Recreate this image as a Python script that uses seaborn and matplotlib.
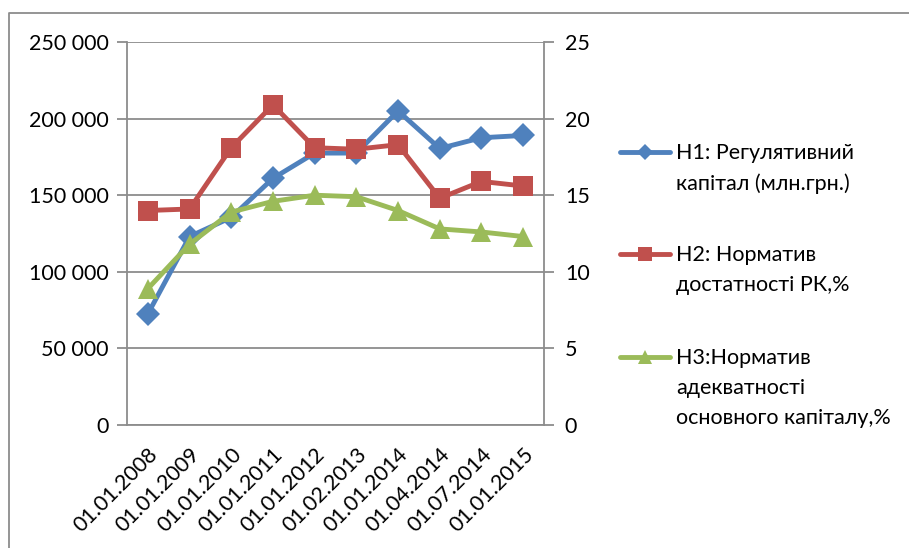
import matplotlib
matplotlib.use("Agg")
import matplotlib.pyplot as plt
from matplotlib.lines import Line2D
from matplotlib.ticker import FuncFormatter, FixedLocator
import seaborn as sns
import pandas as pd

dates = ["01.01.2008", "01.01.2009", "01.01.2010", "01.01.2011", "01.01.2012",
         "01.02.2013", "01.01.2014", "01.04.2014", "01.07.2014", "01.01.2015"]
h1_capital = [72500, 123000, 135500, 161000, 177500, 177500, 205000, 180500, 187500, 189000]
h2_ratio = [14.0, 14.1, 18.1, 20.9, 18.1, 18.0, 18.3, 14.8, 15.9, 15.6]
h3_ratio = [8.9, 11.8, 13.9, 14.6, 15.0, 14.9, 14.0, 12.8, 12.6, 12.3]
labels = ["H1: Регулятивний\nкапітал (млн.грн.)",
          "H2: Норматив\nдостатності РК,%",
          "H3:Норматив\nадекватності\nосновного капіталу,%"]

df = pd.DataFrame({"pos": range(len(dates)), "date": dates,
                   "h1": h1_capital, "h2": h2_ratio, "h3": h3_ratio})

sns.set_style("white")
plt.rcParams["font.family"] = ["Lato", "DejaVu Sans"]

BLUE, RED, GREEN = "#4F81BD", "#C0504D", "#9BBB59"
GRID = "#8C8C8C"
FS = 15.5
LW = 3.5

fig = plt.figure(figsize=(9.09, 5.48), dpi=100)
ax = fig.add_axes([127/909, 1-425/548, (544-127)/909, (425-42)/548])
ax2 = ax.twinx()

sns.lineplot(data=df, x="pos", y="h1", ax=ax, color=BLUE, lw=LW, marker="D",
             markersize=12, markeredgewidth=0, zorder=3)
sns.lineplot(data=df, x="pos", y="h2", ax=ax2, color=RED, lw=LW, marker="s",
             markersize=14, markeredgewidth=0, zorder=3)
sns.lineplot(data=df, x="pos", y="h3", ax=ax2, color=GREEN, lw=LW, marker="^",
             markersize=15, markeredgewidth=0, zorder=4)

n = len(dates)
for a in (ax, ax2):
    a.set_xlim(-0.5, n - 0.5)
    a.set_xlabel("")
    a.set_ylabel("")
    for s in a.spines.values():
        s.set_visible(False)

ax.set_ylim(0, 250000)
ax2.set_ylim(0, 25)
ax.set_yticks(range(0, 250001, 50000))
ax2.set_yticks(range(0, 26, 5))
ax.yaxis.set_major_formatter(FuncFormatter(lambda v, p: f"{int(v):,}".replace(",", " ")))
ax.grid(axis="y", color=GRID, lw=1.3)
ax.set_axisbelow(True)

for side in ("left", "right", "bottom"):
    ax.spines[side].set_visible(True)
    ax.spines[side].set_color(GRID)
    ax.spines[side].set_linewidth(1.3)

ax.tick_params(axis="y", which="major", length=7, width=1.3, color=GRID,
               labelsize=FS, pad=6, direction="out", labelcolor="black")
ax2.tick_params(axis="y", which="major", length=7, width=1.3, color=GRID,
                labelsize=FS, pad=8, direction="out", labelcolor="black")

ax.set_xticks(range(n))
ax.set_xticklabels(dates, rotation=45, ha="right", rotation_mode="anchor", fontsize=FS)
ax.tick_params(axis="x", which="major", length=0, pad=14, labelcolor="black")
ax.xaxis.set_minor_locator(FixedLocator([i - 0.5 for i in range(n + 1)]))
ax.tick_params(axis="x", which="minor", length=7, width=1.3, color=GRID, direction="out")

# legend, drawn in figure coordinates
leg_y = [152, 254, 357]
for lab, col, mk, ms, y in zip(labels, [BLUE, RED, GREEN], ["D", "s", "^"],
                               [8, 10, 10], leg_y):
    yf = 1 - y / 548
    fig.add_artist(Line2D([620/909, 670/909], [yf, yf], color=col, lw=LW,
                          transform=fig.transFigure))
    fig.add_artist(Line2D([645/909], [yf], color=col, marker=mk, markersize=ms,
                          markeredgewidth=0, transform=fig.transFigure))
    fig.text(676/909, yf + 9/548, lab, fontsize=FS, va="top", ha="left",
             linespacing=1.62, color="black")

# outer chart frame
fig.add_artist(Line2D([9/909, 9/909, 1.0], [0, 1 - 13/548, 1 - 13/548],
                      color=GRID, lw=1.3, transform=fig.transFigure))

fig.savefig("out.png", dpi=100, facecolor="white")
